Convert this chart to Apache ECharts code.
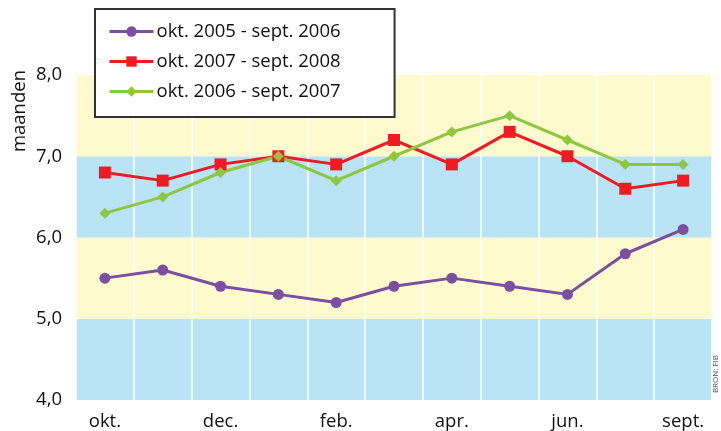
<!DOCTYPE html>
<html><head><meta charset="utf-8">
<script src="https://cdn.jsdelivr.net/npm/echarts@6/dist/echarts.min.js"></script>
<style>html,body{margin:0;padding:0;background:#fff}#c{width:721px;height:431px}</style>
</head><body><div id="c"></div>
<script>
const categories = ['okt.','nov.','dec.','jan.','feb.','mrt.','apr.','mei','jun.','jul.','sept.'];
const shownLabels = ['okt.','','dec.','','feb.','','apr.','','jun.','','sept.'];
const seriesNames = ['okt. 2005 - sept. 2006','okt. 2007 - sept. 2008','okt. 2006 - sept. 2007'];
const s2005 = [5.5, 5.6, 5.4, 5.3, 5.2, 5.4, 5.5, 5.4, 5.3, 5.8, 6.1];
const s2007 = [6.8, 6.7, 6.9, 7.0, 6.9, 7.2, 6.9, 7.3, 7.0, 6.6, 6.7];
const s2006 = [6.3, 6.5, 6.8, 7.0, 6.7, 7.0, 7.3, 7.5, 7.2, 6.9, 6.9];
const yTicks = [4, 5, 6, 7, 8];

const FONT = '"Open Sans", "Noto Sans", sans-serif';
const chart = echarts.init(document.getElementById('c'), null, {renderer: 'canvas'});
chart.setOption({
  animation: false,
  textStyle: {fontFamily: FONT},
  grid: {left: 76, right: 9, top: 75, bottom: 30},
  legend: {
    orient: 'vertical', left: 95, top: 9,
    data: seriesNames,
    itemWidth: 44, itemHeight: 13, itemGap: 11,
    padding: [13, 54, 16, 13],
    backgroundColor: '#fff', borderColor: '#333', borderWidth: 2,
    lineStyle: {width: 3},
    textStyle: {fontSize: 18.5, color: '#111', fontFamily: FONT, padding: [0, 0, 0, -2]}
  },
  xAxis: {
    type: 'category', data: categories, boundaryGap: true,
    axisLine: {show: false}, axisTick: {show: false},
    splitLine: {show: true, lineStyle: {color: '#fff', width: 1.5}},
    axisLabel: {interval: 0, fontSize: 18.5, color: '#111', margin: 12,
      formatter: (v, i) => shownLabels[i]}
  },
  yAxis: {
    type: 'value', min: 4, max: 8, interval: 1,
    axisLine: {show: false}, axisTick: {show: false},
    splitLine: {show: false},
    splitArea: {show: true, areaStyle: {color: ['#bae3f6', '#fffacd']}},
    axisLabel: {fontSize: 18.5, color: '#111', margin: 14,
      formatter: v => v.toFixed(1).replace('.', ',')}
  },
  graphic: [
    {type: 'text', left: 10, top: 70, rotation: Math.PI/2,
     style: {text: 'maanden', font: '18.5px ' + FONT, fill: '#111'}},
    {type: 'text', right: 1, top: 355, rotation: Math.PI/2,
     style: {text: 'BRON: FIB', font: '8px ' + FONT, fill: '#555'}}
  ],
  series: [
    {name: seriesNames[0], type: 'line', data: s2005, symbol: 'circle', symbolSize: 11,
     lineStyle: {color: '#7a4f9f', width: 3}, itemStyle: {color: '#7a4f9f'}},
    {name: seriesNames[1], type: 'line', data: s2007, symbol: 'rect', symbolSize: 12,
     lineStyle: {color: '#ed1c24', width: 3}, itemStyle: {color: '#ed1c24'}},
    {name: seriesNames[2], type: 'line', data: s2006, symbol: 'diamond', symbolSize: 11,
     lineStyle: {color: '#8dc63f', width: 3}, itemStyle: {color: '#8dc63f'}}
  ]
});
</script></body></html>
